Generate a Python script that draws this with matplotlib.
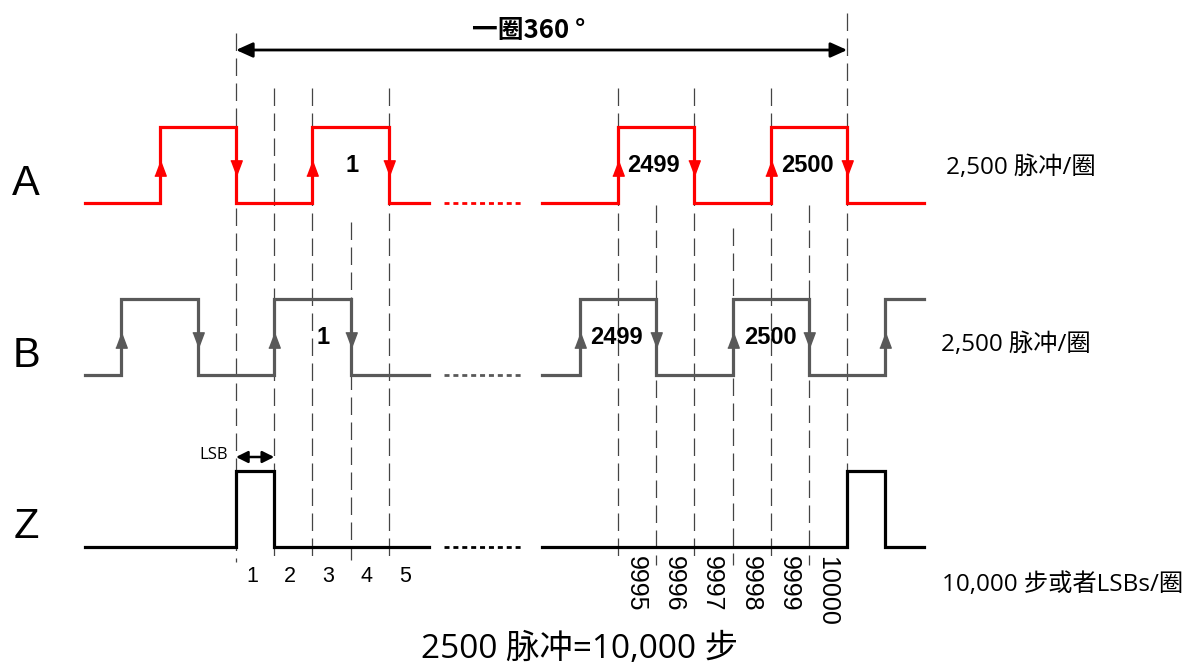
import matplotlib
matplotlib.use("Agg")
import matplotlib.pyplot as plt
from matplotlib.patches import FancyArrowPatch

# ---------------- data ----------------
# edge positions in encoder steps (LSBs); signal starts low on each segment
A_edges_left = [-2, 0, 2, 4]
A_edges_right = [9994, 9996, 9998, 10000]
B_edges_left = [-3, -1, 1, 3]
B_edges_right = [9993, 9995, 9997, 9999, 10001]
Z_edges_left = [0, 1]
Z_edges_right = [10000, 10001]
seg_left = [-3.95, 5.05]
seg_right = [9992.0, 10002.0]
gap_dots = [5.45, 7.55]          # dotted continuation, display slots

step_labels_left = ["1", "2", "3", "4", "5"]
step_labels_left_pos = [0, 1, 2, 3, 4]
step_labels_right = ["9995", "9996", "9997", "9998", "9999", "10000"]
step_labels_right_pos = [9994, 9995, 9996, 9997, 9998, 9999]

A_pulse_labels = ["1", "2499", "2500"]
A_pulse_pos = [2, 9994, 9998]
B_pulse_labels = ["1", "2499", "2500"]
B_pulse_pos = [1, 9993, 9997]

# dashed guide lines: step, top pixel, bottom pixel
guide_steps = [0, 1, 2, 3, 4, 9994, 9995, 9996, 9997, 9998, 9999, 10000]
guide_top = [33, 88, 88, 222, 88, 88, 205, 88, 228, 88, 205, 13]
guide_bot = [562, 560, 560, 560, 560, 560, 565, 560, 565, 560, 565, 471]

rev_steps = 10000
row_names = ["A", "B", "Z"]
rate_labels = ["2,500 脉冲/圈", "2,500 脉冲/圈", "10,000 步或者LSBs/圈"]

# ---------------- layout ----------------
W, H = 1189, 667
X0, STEP_PX = 236.0, 38.2
SHIFT = 9984                     # right segment: slot = step - SHIFT
rows = {"A": (127, 203), "B": (299, 375), "Z": (471, 547)}
colors = {"A": "#ff0000", "B": "#595959", "Z": "#000000"}
A_label_dx = [1.03, 0.92, 0.97]
B_label_dx = [1.28, 0.95, 0.98]

def slot(s):
    return s - SHIFT if s > 1000 else s

fig = plt.figure(figsize=(W / 100, H / 100), dpi=100)
ax = fig.add_axes([0, 0, 1, 1])
ax.set_xlim(-X0 / STEP_PX, (W - X0) / STEP_PX)
ax.set_ylim(H, 0)
ax.axis("off")

def px(x, y):
    return dict(x=x / W, y=1 - y / H, transform=ax.transAxes)

# guides
for s, t, b in zip(guide_steps, guide_top, guide_bot):
    ax.plot([slot(s), slot(s)], [t, b], color="#444444", lw=0.9,
            linestyle=(0, (14, 6)), zorder=1)

def wave(edges, seg, hi, lo):
    xs, ys = [slot(seg[0])], [lo]
    level = lo
    for e in edges:
        xs += [slot(e), slot(e)]
        ys += [level, hi if level == lo else lo]
        level = hi if level == lo else lo
    xs.append(slot(seg[1]))
    ys.append(level)
    return xs, ys

up = [(-0.75, -1), (0.75, -1), (0, 1)]
down = [(-0.75, 1), (0.75, 1), (0, -1)]

for name, el, er in [("A", A_edges_left, A_edges_right),
                     ("B", B_edges_left, B_edges_right),
                     ("Z", Z_edges_left, Z_edges_right)]:
    hi, lo = rows[name]
    c = colors[name]
    for edges, seg in [(el, seg_left), (er, seg_right)]:
        xs, ys = wave(edges, seg, hi, lo)
        ax.plot(xs, ys, color=c, lw=2.3, solid_joinstyle="miter", zorder=3)
        if name != "Z":
            level = lo
            for e in edges:
                m = up if level == lo else down
                ax.plot([slot(e)], [(hi + lo) / 2 + 3], marker=m, ms=11,
                        color=c, mec=c, zorder=4)
                level = hi if level == lo else lo
    ax.plot(gap_dots, [lo, lo], color=c, lw=2.0, linestyle=(0, (1.8, 1.4)), zorder=3)

# row names
for name, yb in zip(row_names, [195, 367, 538]):
    ax.text(ha="center", va="baseline", s=name, fontsize=30,
            family="Liberation Sans", **px(26, yb))

# pulse labels
for lab, p, dx in zip(A_pulse_labels, A_pulse_pos, A_label_dx):
    ax.text(slot(p) + dx, 166, lab, ha="center", va="center", fontsize=17,
            fontweight="bold", family="Liberation Sans", zorder=5)
for lab, p, dx in zip(B_pulse_labels, B_pulse_pos, B_label_dx):
    ax.text(slot(p) + dx, 338, lab, ha="center", va="center", fontsize=17,
            fontweight="bold", family="Liberation Sans", zorder=5)

# step labels
for lab, p in zip(step_labels_left, step_labels_left_pos):
    ax.text(slot(p) + 0.42, 576, lab, ha="center", va="center", fontsize=15.5,
            family="Liberation Sans")
for lab, p in zip(step_labels_right, step_labels_right_pos):
    ax.text(slot(p) + 0.47, 556, lab, ha="center", va="top", rotation=-90,
            fontsize=18, family="Liberation Sans")

# revolution arrow
ax.add_patch(FancyArrowPatch((slot(0), 50), (slot(rev_steps), 50),
                             arrowstyle="<|-|>,head_length=10,head_width=4.5",
                             color="black", lw=2, shrinkA=0, shrinkB=0, zorder=5))
ax.text(s="一圈360 °", ha="center", va="center", fontsize=18.5, fontweight="bold",
        family=["Noto Sans CJK SC", "DejaVu Sans"], **px(529, 30))

# LSB arrow
ax.add_patch(FancyArrowPatch((slot(0), 457), (slot(1), 457),
                             arrowstyle="<|-|>,head_length=7,head_width=3.5",
                             color="black", lw=1.8, shrinkA=0, shrinkB=0, zorder=5))
ax.text(s="LSB", ha="right", va="center", fontsize=12,
        family=["Open Sans", "Noto Sans CJK SC"], **px(228, 455))

# rate labels
for lab, (x, y) in zip(rate_labels, [(946, 168), (941, 345), (942, 585)]):
    ax.text(s=lab, ha="left", va="center", fontsize=17.5,
            family=["Open Sans", "Noto Sans CJK SC"], **px(x, y))

ax.text(s="2500 脉冲=10,000 步", ha="center", va="center", fontsize=24,
        family=["Open Sans", "Noto Sans CJK SC"], **px(580, 650))

fig.savefig("out.png", dpi=100)
